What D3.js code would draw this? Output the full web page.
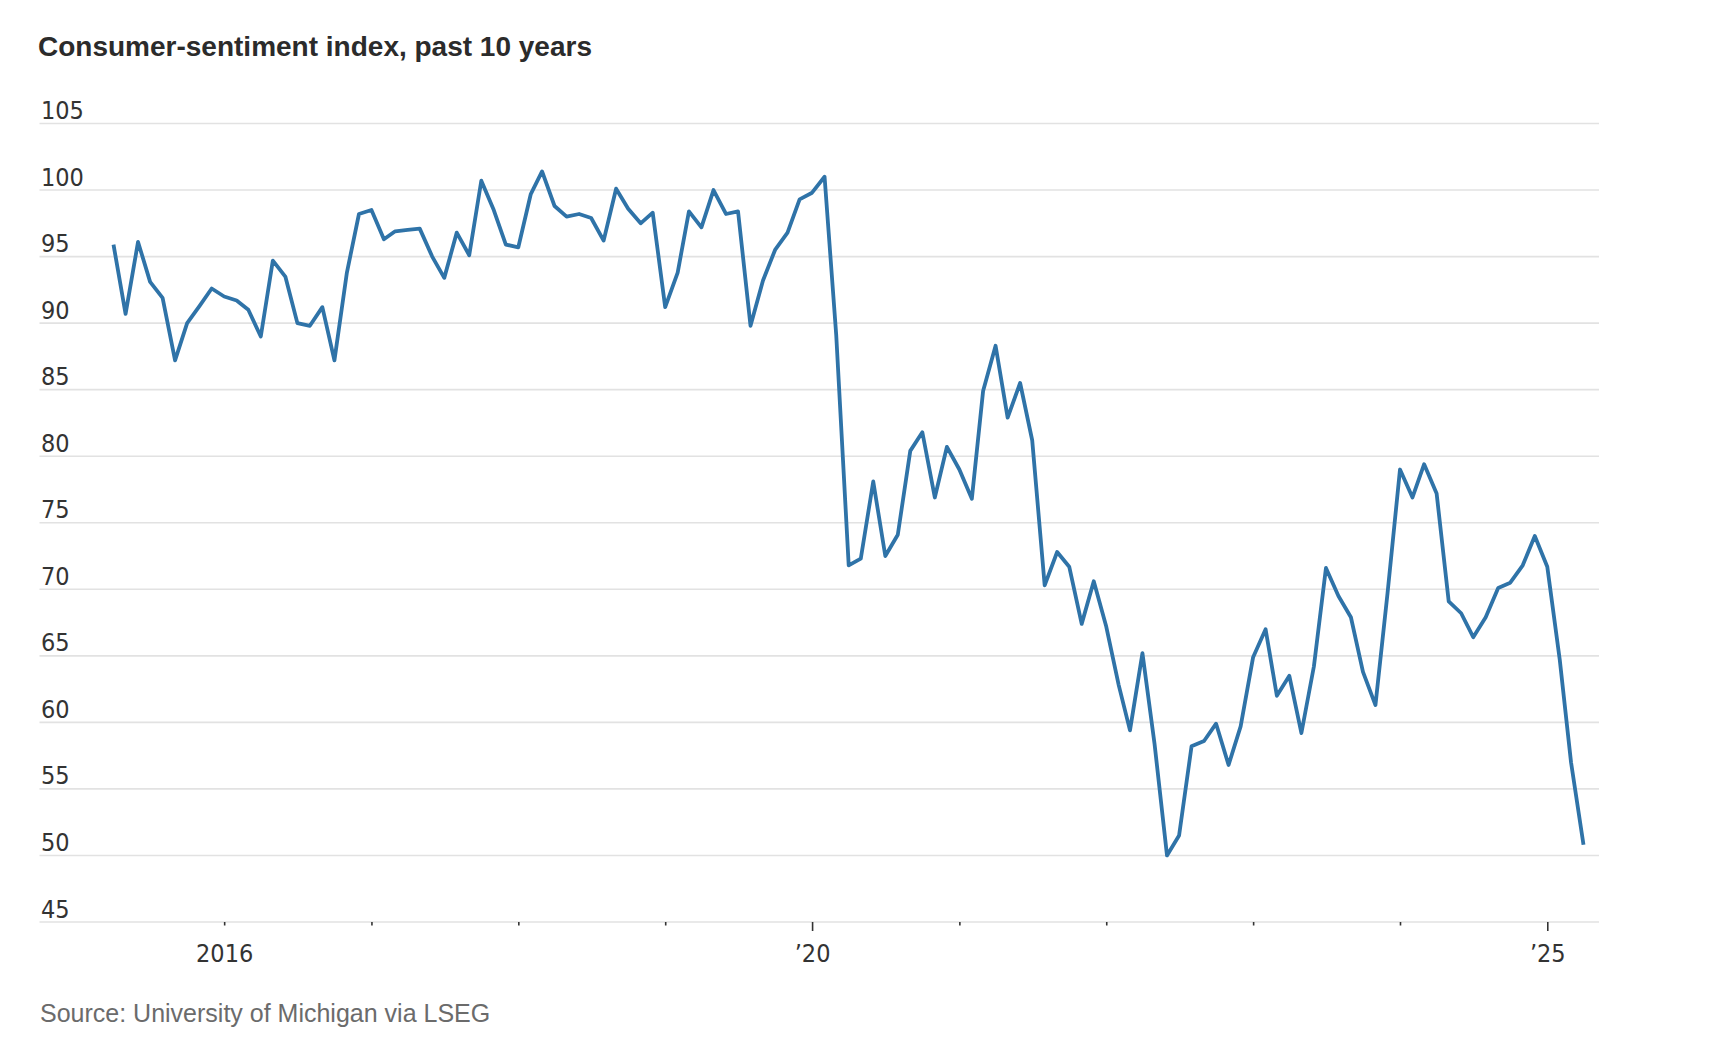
<!DOCTYPE html>
<html>
<head>
<meta charset="utf-8">
<script src="https://cdn.jsdelivr.net/npm/d3@7"></script>
<style>
  html, body { margin: 0; padding: 0; background: #fff; }
  svg { display: block; }
</style>
</head>
<body>
<div id="chart"></div>
<script>
// monthly index values, Apr 2015 .. Apr 2025
var values2015 = [95.9, 90.7, 96.1, 93.1, 91.9, 87.2, 90.0, 91.3, 92.6]; // Apr-Dec
var values2016 = [92.0, 91.7, 91.0, 89.0, 94.7, 93.5, 90.0, 89.8, 91.2, 87.2, 93.8, 98.2];
var values2017 = [98.5, 96.3, 96.9, 97.0, 97.1, 95.0, 93.4, 96.8, 95.1, 100.7, 98.5, 95.9];
var values2018 = [95.7, 99.7, 101.4, 98.8, 98.0, 98.2, 97.9, 96.2, 100.1, 98.6, 97.5, 98.3];
var values2019 = [91.2, 93.8, 98.4, 97.2, 100.0, 98.2, 98.4, 89.8, 93.2, 95.5, 96.8, 99.3];
var values2020 = [99.8, 101.0, 89.1, 71.8, 72.3, 78.1, 72.5, 74.1, 80.4, 81.8, 76.9, 80.7];
var values2021 = [79.0, 76.8, 84.9, 88.3, 82.9, 85.5, 81.2, 70.3, 72.8, 71.7, 67.4, 70.6];
var values2022 = [67.2, 62.8, 59.4, 65.2, 58.4, 50.0, 51.5, 58.2, 58.6, 59.9, 56.8, 59.7];
var values2023 = [64.9, 67.0, 62.0, 63.5, 59.2, 64.2, 71.6, 69.5, 67.9, 63.8, 61.3, 69.7];
var values2024 = [79.0, 76.9, 79.4, 77.2, 69.1, 68.2, 66.4, 67.9, 70.1, 70.5, 71.8, 74.0];
var values2025 = [71.7, 64.7, 57.0, 50.8]; // Jan-Apr

var yTicks = [45, 50, 55, 60, 65, 70, 75, 80, 85, 90, 95, 100, 105];
var xTickYears = [2016, 2017, 2018, 2019, 2020, 2021, 2022, 2023, 2024, 2025];
var xTickLabels = {2016: "2016", 2020: "\u201920", 2025: "\u201925"};

var titleText = "Consumer-sentiment index, past 10 years";
var sourceText = "Source: University of Michigan via LSEG";

var allValues = [].concat(values2015, values2016, values2017, values2018, values2019,
  values2020, values2021, values2022, values2023, values2024, values2025);
var months = d3.timeMonth.range(new Date(2015, 3, 1), new Date(2025, 4, 1));
var data = months.map(function(m, i) { return {date: m, value: allValues[i]}; });

var W = 1722, H = 1044;
var svg = d3.select("#chart").append("svg")
  .attr("width", W)
  .attr("height", H);

var numFont = "'Liberation Sans Narrow', 'Arial Narrow', 'DejaVu Sans Condensed', sans-serif";
var gridLeft = 39.5, gridRight = 1599;

var x = d3.scaleTime()
  .domain(d3.extent(data, function(d) { return d.date; }))
  .range([113.5, 1583.5]);

var y = d3.scaleLinear()
  .domain([45, 105])
  .range([922, 123.5]);

// title
svg.append("text")
  .attr("x", 38)
  .attr("y", 56)
  .attr("font-family", "'Liberation Sans', Arial, sans-serif")
  .attr("font-weight", "bold")
  .attr("font-size", 28)
  .attr("fill", "#2b2b2b")
  .text(titleText);

// gridlines + y labels
var grid = svg.append("g");
grid.selectAll("line")
  .data(yTicks)
  .join("line")
  .attr("x1", gridLeft)
  .attr("x2", gridRight)
  .attr("y1", function(d) { return y(d); })
  .attr("y2", function(d) { return y(d); })
  .attr("stroke", "#e2e2e2")
  .attr("stroke-width", 1.6);

grid.selectAll("text")
  .data(yTicks)
  .join("text")
  .attr("x", 41)
  .attr("y", function(d) { return y(d) - 4.5; })
  .attr("font-family", numFont)
  .attr("font-size", 25)
  .attr("fill", "#333")
  .text(function(d) { return d; });

// x axis ticks
var xAxis = d3.axisBottom(x)
  .tickValues(xTickYears.map(function(yr) { return new Date(yr, 0, 1); }))
  .tickSizeOuter(0)
  .tickSize(0)
  .tickFormat(function(d) { return xTickLabels[d.getFullYear()] || ""; });

var gx = svg.append("g")
  .attr("transform", "translate(0," + y(45) + ")")
  .call(xAxis);
gx.select(".domain").remove();
gx.selectAll(".tick line")
  .attr("y1", 0)
  .attr("y2", function(d) { return d.getFullYear() % 5 === 0 ? 9 : 3.5; })
  .attr("stroke", "#333")
  .attr("stroke-width", 1.6);
gx.selectAll(".tick text")
  .attr("y", 40)
  .attr("dy", 0)
  .attr("font-family", numFont)
  .attr("font-size", 25)
  .attr("fill", "#333");

// the line
var line = d3.line()
  .x(function(d) { return x(d.date); })
  .y(function(d) { return y(d.value); });

svg.append("path")
  .datum(data)
  .attr("fill", "none")
  .attr("stroke", "#2f73a8")
  .attr("stroke-width", 3.8)
  .attr("stroke-linejoin", "round")
  .attr("stroke-linecap", "butt")
  .attr("d", line);

// source
svg.append("text")
  .attr("x", 40)
  .attr("y", 1022)
  .attr("font-family", "'Liberation Sans', Arial, sans-serif")
  .attr("font-size", 25)
  .attr("fill", "#6b6b6b")
  .text(sourceText);
</script>
</body>
</html>
